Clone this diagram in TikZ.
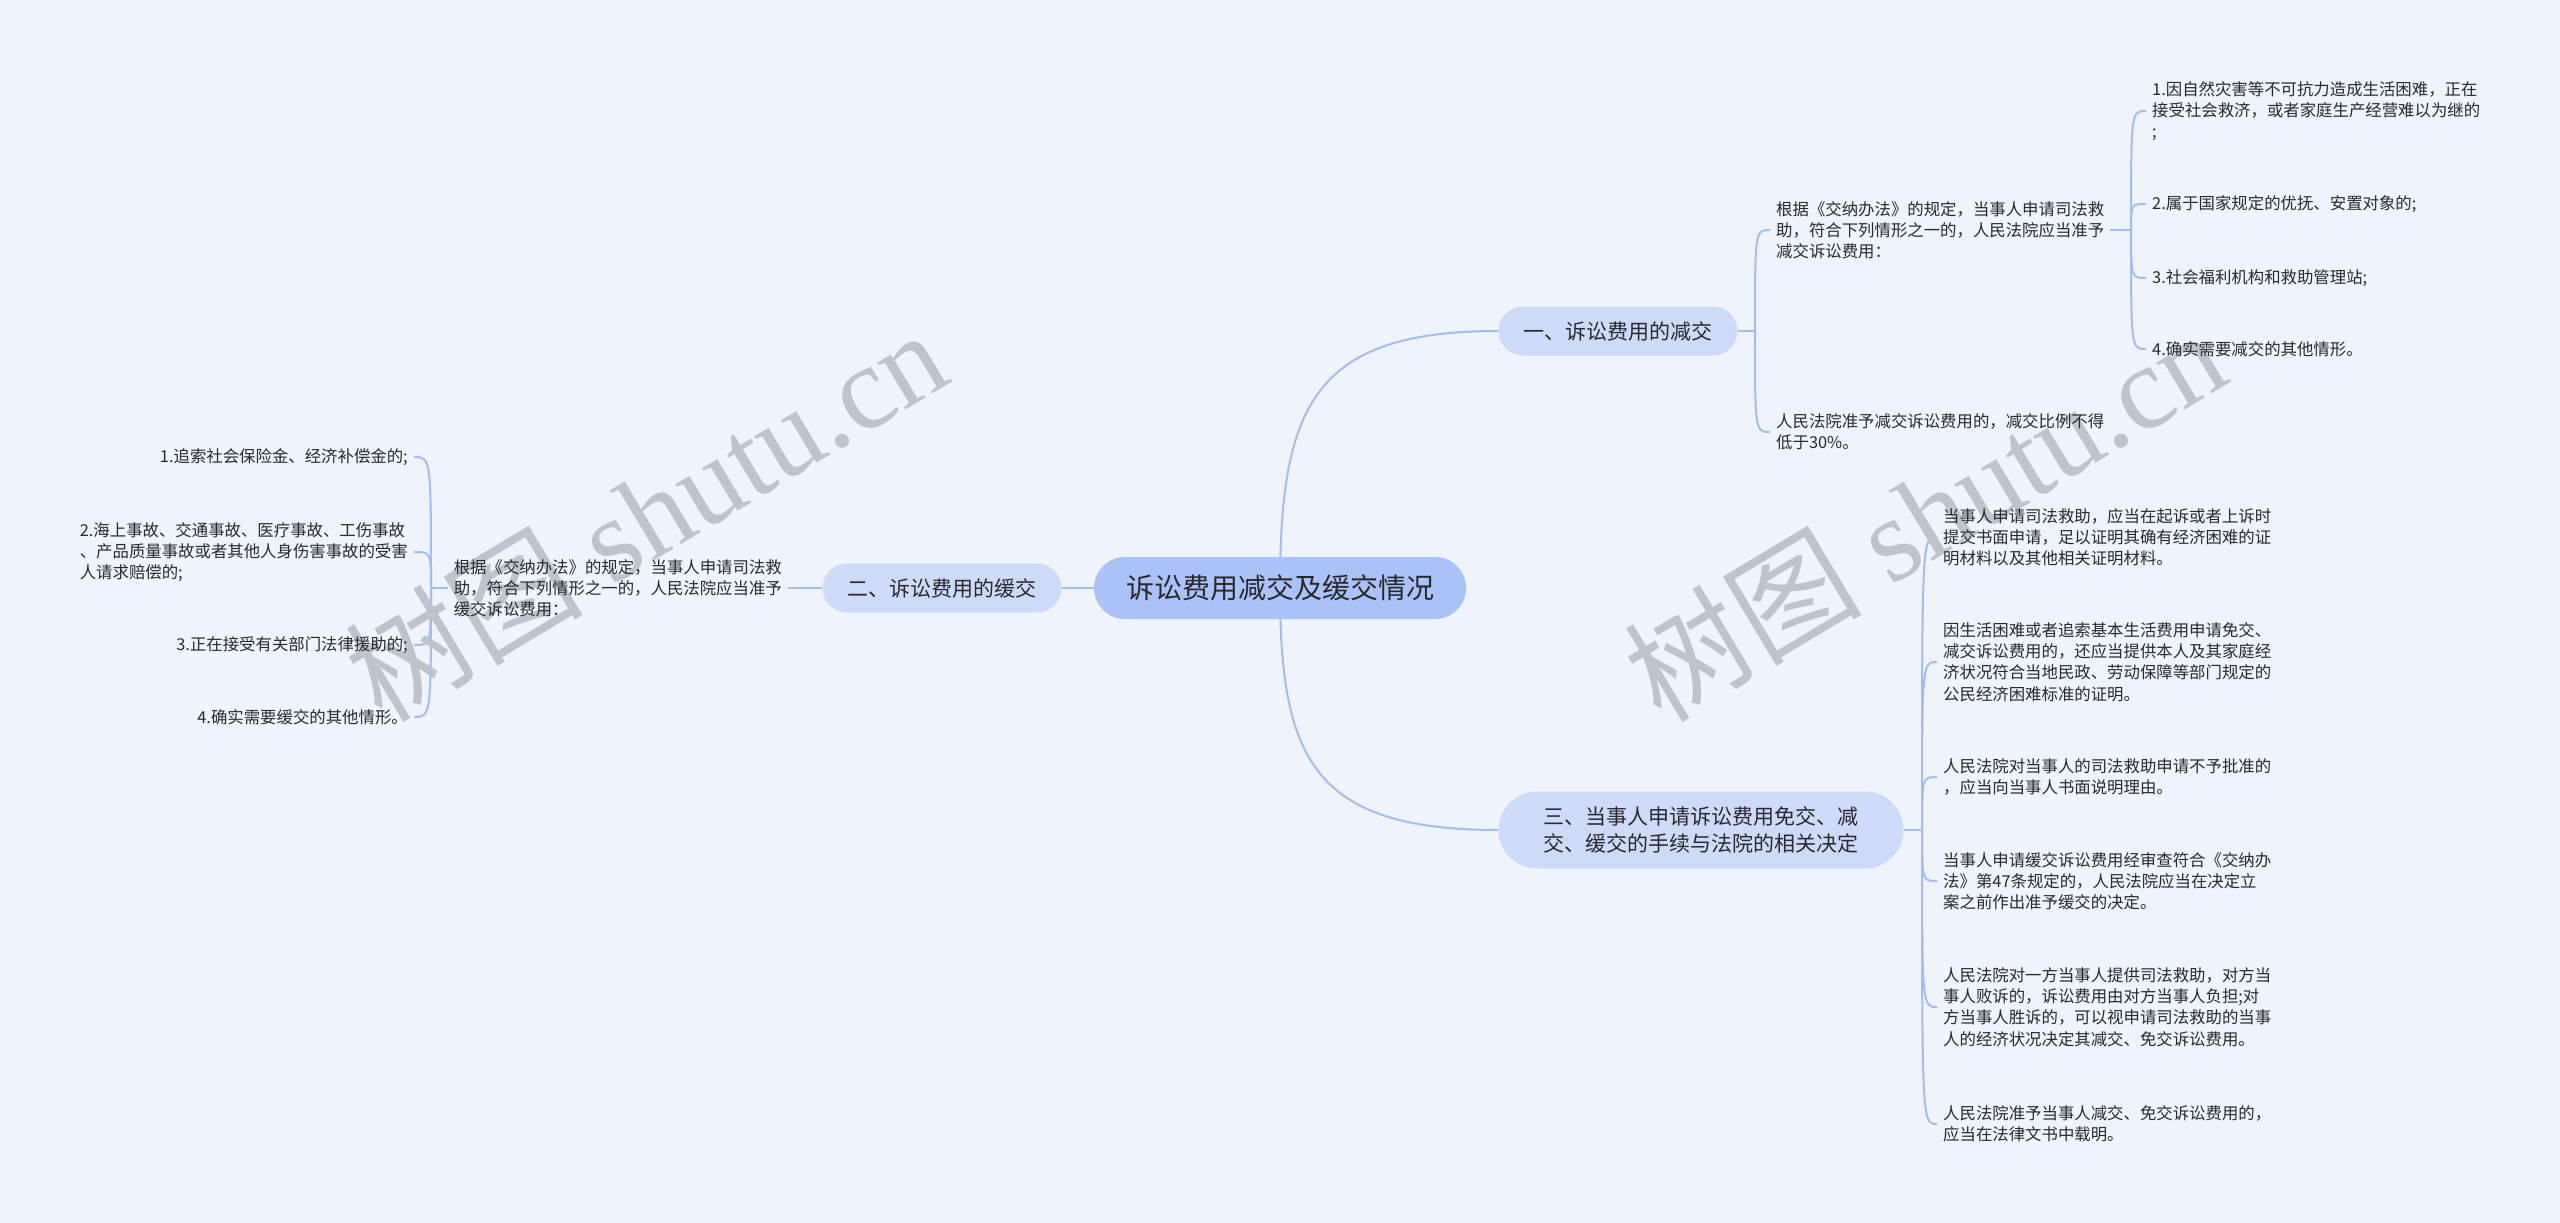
\documentclass[tikz,border=0pt]{standalone}
\usepackage{fontspec}
\setmainfont{Noto Sans CJK SC}
\newfontfamily\cjk{Noto Sans CJK SC}
\newfontfamily\wmlatin{Liberation Serif}
\definecolor{bgc}{RGB}{239,243,252}
\definecolor{rootfill}{RGB}{170,194,247}
\definecolor{subfill}{RGB}{205,219,249}
\definecolor{linec}{RGB}{165,189,236}
\definecolor{txt}{RGB}{40,40,45}
\definecolor{wmc}{RGB}{190,195,204}
\pgfdeclarelayer{back}
\pgfdeclarelayer{lines}
\pgfsetlayers{back,lines,main}
\begin{document}
\begin{tikzpicture}[x=1pt,y=-1pt,
  root/.style={fill=rootfill, rounded corners=31pt, minimum height=62pt, inner xsep=32pt, inner ysep=0pt, font=\fontsize{28}{34}\selectfont, text=txt},
  sub/.style={fill=subfill, rounded corners=24.5pt, minimum height=49pt, inner xsep=25pt, inner ysep=0pt, font=\fontsize{21}{27.5}\selectfont, text=txt, align=center},
  leaf/.style={inner sep=0pt, align=left, font=\fontsize{16.4}{21.2}\selectfont, text=txt},
  conn/.style={draw=linec, line width=2pt},
  wm/.style={text=wmc, font=\fontsize{119}{119}\selectfont\wmlatin, inner sep=0pt}
]
\begin{pgfonlayer}{back}
\useasboundingbox[fill=bgc] (0,0) rectangle (2560,1223);
\end{pgfonlayer}

% watermarks
\node[wm, rotate=31] (wm1) at (645,514) {{\cjk 树图} shutu.cn};
\node[wm, rotate=31] (wm2) at (1924,514) {{\cjk 树图} shutu.cn};

% main nodes
\node[root] (root) at (1280,588) {诉讼费用减交及缓交情况};
\node[sub] (n1) at (1618,331) {一、诉讼费用的减交};
\node[sub] (n2) at (942,588) {二、诉讼费用的缓交};
\node[sub, minimum height=77pt, rounded corners=38.5pt, inner xsep=45pt] (n3) at (1701,830) {三、当事人申请诉讼费用免交、减\\交、缓交的手续与法院的相关决定};

% branch 1
\node[leaf, anchor=west] (a1) at (1776,230) {根据《交纳办法》的规定，当事人申请司法救\\助，符合下列情形之一的，人民法院应当准予\\减交诉讼费用：};
\node[leaf, anchor=west] (a2) at (1776,432) {人民法院准予减交诉讼费用的，减交比例不得\\低于30\%。};
\node[leaf, anchor=west] (b1) at (2152,111) {1.因自然灾害等不可抗力造成生活困难，正在\\接受社会救济，或者家庭生产经营难以为继的\\;};
\node[leaf, anchor=west] (b2) at (2152,204) {2.属于国家规定的优抚、安置对象的;};
\node[leaf, anchor=west] (b3) at (2152,278) {3.社会福利机构和救助管理站;};
\node[leaf, anchor=west] (b4) at (2152,349) {4.确实需要减交的其他情形。};

% branch 2
\node[leaf, anchor=east] (d) at (782,588) {根据《交纳办法》的规定，当事人申请司法救\\助，符合下列情形之一的，人民法院应当准予\\缓交诉讼费用：};
\node[leaf, anchor=east] (e1) at (408,457) {1.追索社会保险金、经济补偿金的;};
\node[leaf, anchor=east] (e2) at (408,552) {2.海上事故、交通事故、医疗事故、工伤事故\\、产品质量事故或者其他人身伤害事故的受害\\人请求赔偿的;};
\node[leaf, anchor=east] (e3) at (408,645) {3.正在接受有关部门法律援助的;};
\node[leaf, anchor=east] (e4) at (408,717) {4.确实需要缓交的其他情形。};

% branch 3
\node[leaf, anchor=west] (c1) at (1943,537) {当事人申请司法救助，应当在起诉或者上诉时\\提交书面申请，足以证明其确有经济困难的证\\明材料以及其他相关证明材料。};
\node[leaf, anchor=west] (c2) at (1943,662) {因生活困难或者追索基本生活费用申请免交、\\减交诉讼费用的，还应当提供本人及其家庭经\\济状况符合当地民政、劳动保障等部门规定的\\公民经济困难标准的证明。};
\node[leaf, anchor=west] (c3) at (1943,777) {人民法院对当事人的司法救助申请不予批准的\\，应当向当事人书面说明理由。};
\node[leaf, anchor=west] (c4) at (1943,881) {当事人申请缓交诉讼费用经审查符合《交纳办\\法》第47条规定的，人民法院应当在决定立\\案之前作出准予缓交的决定。};
\node[leaf, anchor=west] (c5) at (1943,1007) {人民法院对一方当事人提供司法救助，对方当\\事人败诉的，诉讼费用由对方当事人负担;对\\方当事人胜诉的，可以视申请司法救助的当事\\人的经济状况决定其减交、免交诉讼费用。};
\node[leaf, anchor=west] (c6) at (1943,1124) {人民法院准予当事人减交、免交诉讼费用的，\\应当在法律文书中载明。};

% spine points
\coordinate (s1) at (1755,331);
\coordinate (sa) at (2131,230);
\coordinate (s3) at (1922,830);
\coordinate (sd) at (431,588);

\begin{pgfonlayer}{lines}
\draw[conn] (root.center) .. controls (1280,406) and (1313,331) .. (n1.west);
\draw[conn] (root.center) .. controls (1280,759) and (1313,830) .. (n3.west);
\draw[conn] (root.west) -- (n2.east);

\draw[conn] (n1.east) -- (s1);
\foreach \c in {a1,a2}{
  \draw[conn] (s1) .. controls (s1 |- \c.west) and (s1 |- \c.west) .. ([xshift=-6pt]\c.west);
}
\draw[conn] ([xshift=6pt]a1.east) -- (sa);
\foreach \c in {b1,b2,b3,b4}{
  \draw[conn] (sa) .. controls (sa |- \c.west) and (sa |- \c.west) .. ([xshift=-6pt]\c.west);
}

\draw[conn] (n3.east) -- (s3);
\foreach \c in {c1,c2,c3,c4,c5,c6}{
  \draw[conn] (s3) .. controls (s3 |- \c.west) and (s3 |- \c.west) .. ([xshift=-6pt]\c.west);
}

\draw[conn] (n2.west) -- ([xshift=6pt]d.east);
\draw[conn] ([xshift=-6pt]d.west) -- (sd);
\foreach \c in {e1,e2,e3,e4}{
  \draw[conn] (sd) .. controls (sd |- \c.east) and (sd |- \c.east) .. ([xshift=6pt]\c.east);
}
\end{pgfonlayer}
\end{tikzpicture}
\end{document}
